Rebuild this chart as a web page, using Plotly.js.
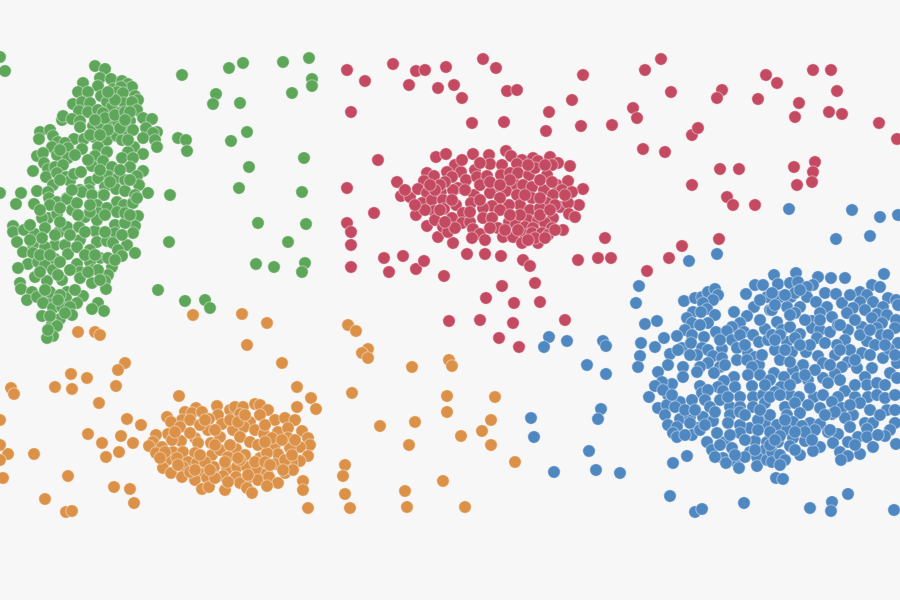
<!DOCTYPE html>
<html>
<head>
<meta charset="utf-8">
<script src="https://cdn.plot.ly/plotly-3.0.1.min.js"></script>
<style>html,body{margin:0;padding:0;background:#f7f7f7;}#chart{width:900px;height:600px;}</style>
</head>
<body>
<div id="chart"></div>
<script>
const green = [[95,66],[105,69],[100,78],[111,79],[122,81],[128,84],[132,87],[83,83],[98,86],[113,89],[121,87],[78,92],[88,92],[101,96],[117,92],[123,93],[135,96],[138,100],[73,104],[82,102],[90,103],[107,102],[124,103],[132,102],[112,107],[79,111],[88,112],[98,110],[103,113],[120,113],[137,110],[62,120],[63,116],[72,119],[80,121],[80,127],[93,126],[100,124],[111,125],[118,122],[130,121],[143,118],[152,119],[146,128],[157,132],[153,133],[40,132],[50,130],[39,139],[53,136],[74,139],[84,139],[94,137],[107,140],[117,136],[122,140],[127,130],[133,130],[143,138],[155,140],[157,147],[58,142],[65,143],[52,147],[68,148],[82,149],[98,147],[107,152],[134,147],[128,152],[143,154],[37,156],[43,153],[57,155],[68,158],[95,156],[103,161],[122,158],[133,158],[44,163],[33,171],[48,169],[55,167],[63,165],[92,166],[112,167],[130,167],[143,171],[46,177],[57,173],[66,177],[70,181],[74,174],[81,172],[108,176],[118,178],[137,176],[90,182],[98,178],[125,180],[139,185],[53,185],[37,191],[21,193],[48,192],[80,190],[89,190],[105,187],[116,189],[125,191],[148,193],[103,195],[135,195],[67,198],[0,193],[16,204],[34,204],[49,198],[57,202],[67,199],[72,210],[77,203],[82,192],[92,195],[104,195],[117,202],[124,205],[133,203],[137,198],[97,205],[107,208],[117,212],[138,216],[85,217],[98,213],[48,218],[42,218],[57,214],[13,226],[13,232],[24,230],[35,234],[45,228],[59,232],[67,227],[79,227],[95,231],[115,225],[115,233],[135,226],[133,233],[125,223],[97,220],[17,242],[33,245],[55,245],[65,245],[80,240],[97,242],[107,241],[113,243],[127,245],[23,252],[33,253],[45,247],[68,254],[77,247],[90,250],[100,258],[118,250],[122,256],[135,253],[28,264],[18,268],[38,262],[55,259],[45,265],[53,270],[77,264],[90,262],[112,267],[108,275],[80,272],[93,270],[98,270],[35,277],[47,281],[62,280],[58,275],[80,278],[92,283],[105,281],[20,283],[21,289],[32,292],[106,289],[27,300],[37,297],[48,298],[50,292],[67,292],[66,298],[83,296],[77,303],[43,303],[53,308],[62,307],[70,307],[98,303],[104,311],[92,309],[72,315],[42,316],[60,319],[52,324],[57,326],[53,336],[47,338],[48,330],[105,118],[115,115],[125,112],[95,120],[108,130],[120,128],[90,135],[100,135],[128,140],[60,150],[75,155],[88,160],[100,170],[110,182],[120,170],[130,180],[60,180],[72,190],[50,205],[60,208],[40,210],[30,225],[42,238],[55,235],[70,235],[90,212],[105,215],[125,213],[130,215],[85,232],[105,232],[122,235],[40,255],[50,255],[60,262],[85,255],[95,255],[108,258],[115,260],[40,272],[70,270],[88,272],[100,280],[45,290],[60,295],[75,290],[58,300],[65,313],[50,316],[130,112],[125,120],[115,100],[108,92],[90,205],[78,215],[60,222],[30,240],[5,71],[0,57],[182,75],[229,68],[243,63],[283,62],[309,58],[312,79],[312,86],[292,93],[216,94],[213,104],[240,103],[247,132],[231,141],[178,138],[186,140],[187,151],[304,158],[249,167],[239,188],[302,192],[170,195],[258,223],[306,224],[169,242],[288,242],[256,264],[274,267],[305,263],[302,272],[158,290],[185,301],[205,300],[210,308]];
const red = [[347,70],[365,81],[393,64],[416,71],[425,70],[446,67],[409,85],[438,88],[454,85],[462,98],[483,59],[496,68],[507,91],[517,90],[472,123],[504,122],[351,112],[583,75],[572,100],[549,112],[546,131],[581,126],[612,125],[645,70],[661,59],[671,92],[633,108],[637,118],[643,149],[665,152],[692,135],[698,128],[722,90],[717,98],[758,99],[766,75],[777,83],[813,70],[831,70],[837,91],[799,103],[795,117],[829,112],[842,114],[879,123],[897,139],[378,160],[347,188],[374,213],[347,223],[351,232],[351,245],[351,267],[384,258],[403,256],[389,272],[416,269],[424,261],[444,276],[467,254],[485,254],[501,256],[523,260],[530,266],[535,283],[502,286],[486,298],[514,303],[540,302],[449,321],[480,320],[513,323],[565,320],[499,338],[519,347],[578,260],[598,258],[611,258],[605,238],[647,271],[669,258],[682,246],[719,239],[692,185],[720,169],[739,169],[727,197],[733,205],[755,205],[794,167],[815,162],[813,172],[812,182],[797,185],[397,182],[401,196],[410,197],[416,215],[427,226],[438,237],[453,243],[436,157],[446,154],[473,154],[489,155],[506,151],[511,156],[522,160],[533,158],[538,161],[550,157],[570,166],[558,163],[552,165],[517,164],[490,164],[455,165],[502,165],[475,170],[461,172],[447,172],[427,173],[434,176],[424,181],[452,177],[466,180],[477,177],[487,176],[501,175],[510,173],[518,173],[529,175],[547,175],[535,168],[497,186],[516,185],[523,185],[532,187],[544,190],[557,185],[568,181],[583,189],[418,189],[427,193],[441,192],[458,188],[453,190],[422,203],[432,200],[443,200],[456,205],[474,195],[471,203],[490,193],[506,191],[517,195],[532,198],[562,190],[572,192],[553,195],[547,203],[579,205],[560,207],[568,203],[520,205],[509,205],[500,198],[492,206],[483,208],[500,210],[434,211],[444,209],[463,213],[530,210],[540,208],[569,214],[575,217],[553,218],[435,220],[452,218],[462,223],[470,222],[483,218],[492,218],[509,222],[516,224],[528,220],[538,220],[545,223],[563,230],[443,227],[473,229],[498,228],[525,227],[533,228],[552,228],[525,235],[448,232],[480,234],[503,237],[513,237],[532,233],[542,233],[472,238],[485,240],[522,243],[538,243],[548,235],[555,230],[445,182],[440,210],[452,200],[465,190],[480,185],[490,182],[510,180],[540,180],[552,182],[480,200],[500,185],[525,195],[540,198],[555,205],[565,195],[540,215],[550,210],[520,215],[510,215],[470,212],[455,228],[440,185],[435,190],[430,185],[462,160],[480,163],[528,165],[545,165],[445,222],[490,228],[505,230],[518,230],[535,238],[528,240],[545,238],[425,210],[415,205],[405,190]];
const orange = [[78,332],[95,332],[100,335],[193,315],[242,314],[267,323],[247,345],[282,363],[348,325],[356,331],[368,349],[362,353],[368,358],[449,360],[452,366],[412,367],[125,363],[118,370],[71,374],[87,378],[72,389],[55,387],[116,386],[99,403],[11,388],[14,394],[297,387],[311,398],[297,407],[316,409],[179,396],[352,393],[447,396],[495,397],[447,412],[127,419],[141,425],[88,434],[121,436],[102,443],[133,443],[119,452],[106,457],[415,422],[380,426],[491,420],[482,431],[461,436],[491,445],[409,445],[34,454],[8,454],[0,420],[0,445],[0,460],[3,478],[68,476],[114,487],[130,489],[45,499],[134,503],[66,512],[72,511],[345,465],[343,476],[345,494],[350,508],[405,491],[407,507],[443,481],[465,507],[515,462],[303,481],[303,490],[308,508],[217,406],[196,408],[185,412],[192,413],[202,412],[230,410],[235,407],[243,407],[255,404],[260,405],[268,410],[240,414],[218,415],[167,417],[182,420],[190,420],[209,419],[222,424],[250,422],[260,415],[275,420],[285,418],[295,420],[171,422],[180,427],[208,430],[233,430],[244,427],[255,430],[264,434],[278,432],[288,428],[302,431],[168,434],[156,435],[195,438],[181,441],[211,443],[220,437],[240,437],[250,442],[258,445],[275,445],[288,438],[308,438],[310,445],[153,442],[149,446],[162,447],[198,443],[236,449],[300,447],[290,448],[173,452],[156,453],[183,452],[195,453],[212,455],[220,450],[228,457],[260,458],[278,454],[308,456],[300,461],[167,460],[177,458],[188,462],[197,463],[275,464],[292,463],[267,453],[163,468],[171,473],[183,467],[202,474],[214,467],[227,469],[237,467],[247,467],[257,470],[267,473],[285,473],[293,470],[182,477],[195,480],[207,478],[223,476],[236,477],[247,479],[258,480],[269,477],[278,483],[267,486],[240,483],[202,489],[209,487],[225,490],[247,488],[252,493],[200,425],[215,430],[230,420],[238,422],[265,425],[272,438],[230,445],[245,455],[265,442],[285,460],[240,460],[205,462],[190,472],[215,478],[228,482],[255,462],[172,440],[165,452],[160,458],[178,465],[190,433],[200,455],[215,445],[238,458],[282,440],[295,440],[292,455],[283,470],[265,462],[245,415],[205,420],[175,432],[248,475],[270,465],[195,470],[225,462],[210,470]];
const blue = [[789,209],[852,210],[880,217],[898,215],[836,239],[870,236],[717,254],[689,261],[639,286],[636,303],[645,324],[657,321],[641,343],[640,356],[638,367],[549,337],[544,347],[567,341],[603,341],[606,346],[587,365],[606,374],[601,409],[598,419],[531,418],[534,437],[589,451],[554,472],[596,470],[620,473],[670,496],[695,512],[702,509],[744,503],[810,508],[832,502],[831,511],[848,494],[894,510],[776,478],[783,479],[673,463],[687,456],[755,285],[746,294],[763,285],[767,297],[684,301],[695,298],[702,297],[708,292],[715,289],[718,295],[713,300],[703,303],[693,312],[707,309],[701,312],[715,315],[734,312],[754,307],[747,316],[770,310],[687,318],[692,323],[708,323],[740,323],[732,327],[716,332],[727,331],[744,332],[753,335],[765,329],[685,330],[664,338],[677,336],[692,335],[704,337],[732,340],[759,342],[768,340],[655,347],[682,348],[691,343],[702,348],[708,350],[722,349],[737,348],[670,354],[697,355],[713,356],[722,358],[748,353],[755,357],[737,360],[747,360],[759,365],[668,365],[708,363],[683,367],[700,367],[720,367],[752,367],[658,372],[683,377],[697,372],[714,373],[734,377],[748,375],[760,375],[724,381],[672,384],[662,382],[655,386],[700,386],[718,387],[735,387],[752,386],[649,397],[668,395],[663,390],[702,393],[708,390],[723,391],[680,402],[692,400],[705,400],[720,400],[740,397],[753,397],[763,395],[658,408],[667,405],[675,407],[710,407],[730,407],[740,407],[753,407],[765,403],[665,415],[680,419],[690,417],[703,417],[713,421],[730,415],[740,412],[763,415],[668,425],[697,428],[690,423],[677,427],[717,433],[728,423],[750,428],[740,425],[765,423],[673,433],[692,435],[677,437],[707,442],[725,442],[740,433],[755,441],[767,442],[712,450],[732,448],[750,452],[765,450],[723,458],[735,461],[715,457],[745,457],[757,457],[739,468],[757,466],[767,460],[726,463],[796,273],[774,275],[818,277],[831,278],[845,278],[884,274],[778,284],[790,283],[798,282],[813,285],[807,287],[872,285],[880,287],[860,292],[780,297],[791,297],[795,293],[825,293],[836,294],[867,295],[772,293],[807,297],[816,302],[827,307],[842,303],[873,302],[860,302],[888,298],[896,300],[787,307],[800,307],[772,310],[853,308],[865,310],[883,307],[898,305],[820,313],[795,313],[847,313],[877,314],[887,315],[832,317],[872,318],[896,320],[812,321],[777,322],[882,323],[782,330],[790,327],[800,334],[812,328],[820,330],[830,332],[848,330],[862,327],[877,328],[895,328],[838,325],[881,335],[888,335],[772,335],[787,342],[795,338],[817,338],[845,340],[867,341],[898,343],[837,345],[825,343],[775,350],[792,352],[806,352],[818,356],[835,355],[848,362],[862,353],[883,358],[889,349],[780,360],[803,365],[793,370],[823,363],[842,367],[857,368],[872,368],[897,363],[774,373],[784,377],[835,374],[823,378],[797,378],[808,380],[865,377],[890,373],[828,383],[897,378],[781,387],[867,385],[877,383],[845,391],[775,392],[790,395],[799,397],[814,397],[823,395],[838,397],[855,397],[868,397],[877,395],[770,397],[785,407],[832,402],[820,408],[808,405],[795,403],[842,408],[860,403],[887,410],[770,415],[787,415],[800,413],[832,414],[853,415],[845,418],[810,423],[820,424],[793,422],[865,423],[873,423],[895,423],[777,425],[787,430],[802,426],[850,427],[867,429],[890,430],[885,436],[828,432],[838,434],[858,437],[867,437],[793,438],[805,441],[778,442],[896,444],[848,442],[833,443],[790,446],[820,447],[813,451],[873,447],[772,452],[840,452],[860,454],[848,456],[841,460],[772,462],[700,325],[720,340],[740,335],[725,365],[745,345],[690,355],[678,350],[672,395],[685,410],[695,410],[715,412],[728,397],[745,415],[758,420],[770,432],[770,445],[780,455],[758,430],[745,440],[730,435],[720,445],[700,430],[685,435],[705,425],[735,455],[755,450],[780,335],[775,340],[790,315],[805,320],[820,320],[840,325],[855,320],[860,335],[875,345],[885,345],[850,350],[840,350],[810,345],[800,345],[785,350],[815,370],[830,365],[805,375],[790,385],[780,395],[810,388],[840,380],[855,385],[885,385],[885,398],[895,395],[850,405],[835,412],[825,415],[815,430],[805,432],[795,432],[785,420],[780,436],[800,455],[812,440],[830,430],[855,445],[878,435],[870,410],[880,415],[895,410],[800,290],[850,295],[870,330],[855,360],[870,355],[895,355],[790,362],[770,380],[765,385],[762,355],[760,320],[760,300],[775,305],[785,295],[760,410],[775,440],[785,460],[780,465],[795,450]];
const seriesList = [
  {name: 'Blue', pts: blue, color: '#4f87c0'},
  {name: 'Orange', pts: orange, color: '#db9248'},
  {name: 'Green', pts: green, color: '#5ea65a'},
  {name: 'Red', pts: red, color: '#c44a62'}
];
const traces = seriesList.map(s => ({
  type: 'scatter', mode: 'markers', name: s.name,
  x: s.pts.map(p => p[0]), y: s.pts.map(p => p[1]),
  marker: {size: 12.5, color: s.color, line: {width: 1.2, color: 'rgba(255,255,255,0.4)'}},
  cliponaxis: true, hoverinfo: 'skip'
}));
Plotly.newPlot('chart', traces, {
  width: 900, height: 600, showlegend: false,
  margin: {l: 0, r: 0, t: 0, b: 0, pad: 0},
  paper_bgcolor: '#f7f7f7', plot_bgcolor: '#f7f7f7',
  xaxis: {range: [0, 900], visible: false, fixedrange: true},
  yaxis: {range: [600, 0], visible: false, fixedrange: true}
}, {displayModeBar: false, staticPlot: true});
</script>
</body>
</html>
